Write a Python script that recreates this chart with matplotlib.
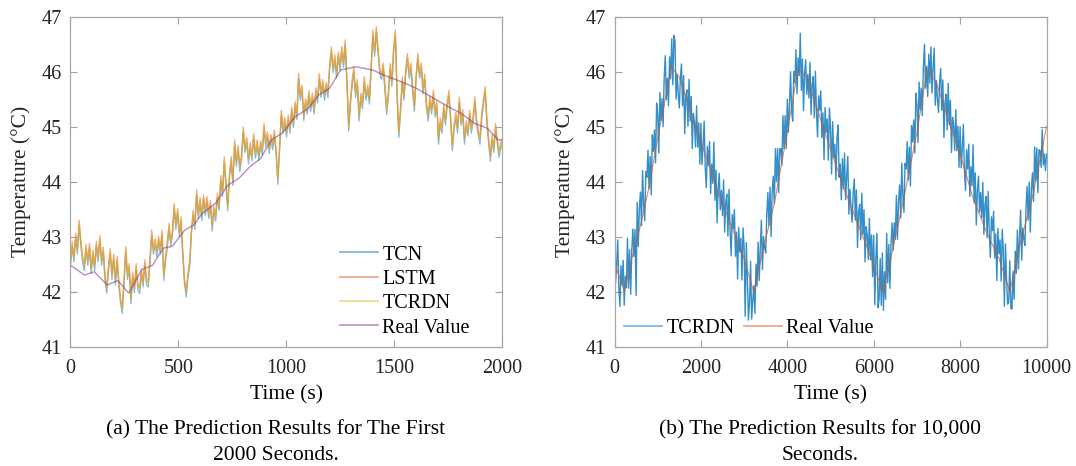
import numpy as np
import matplotlib
matplotlib.use("Agg")
import matplotlib.pyplot as plt

plt.rcParams["font.family"] = ["Liberation Serif", "DejaVu Serif"]

# ---- (a) first 2000 s, one sample every 8 s ------------------------------
t_a = np.arange(0, 2001, 8)
tcrdn_a = [
    42.52, 42.85, 42.60, 43.00, 42.75, 43.24, 42.90, 42.60, 42.45, 42.80,
    42.55, 42.82, 42.40, 42.70, 42.45, 42.85, 42.60, 42.96, 42.55, 42.75,
    42.25, 42.05, 42.45, 42.72, 42.30, 42.62, 42.20, 42.58, 42.15, 41.85,
    41.67, 42.20, 42.76, 42.30, 42.45, 41.85, 42.30, 42.05, 42.45, 42.10,
    42.03, 42.35, 42.15, 42.52, 42.20, 42.15, 42.55, 43.06, 42.75, 42.90,
    42.70, 42.95, 42.75, 43.06, 42.27, 42.60, 42.85, 43.18, 42.90, 43.06,
    43.55, 43.20, 43.45, 43.06, 43.30, 42.70, 42.20, 41.97, 42.30, 42.52,
    43.10, 43.42, 43.20, 43.79, 43.40, 43.65, 43.36, 43.70, 43.45, 43.67,
    43.40, 43.60, 43.18, 43.50, 43.35, 43.73, 43.55, 44.05, 43.80, 44.39,
    43.95, 43.55, 44.10, 44.40, 44.00, 44.70, 44.35, 44.60, 44.25, 44.45,
    44.94, 44.60, 44.75, 44.39, 44.65, 44.45, 44.82, 44.50, 44.70, 44.45,
    44.70, 44.55, 45.00, 44.70, 44.85, 44.58, 44.80, 44.65, 44.88, 44.55,
    44.03, 44.60, 45.24, 44.95, 45.10, 44.88, 45.15, 44.95, 45.30, 45.05,
    45.40, 45.20, 45.91, 45.55, 45.70, 45.18, 45.45, 45.30, 45.60, 45.35,
    45.55, 45.30, 45.65, 45.50, 45.91, 45.60, 45.80, 45.55, 45.75, 45.60,
    46.10, 46.39, 46.05, 46.25, 45.95, 46.30, 46.09, 46.40, 46.15, 46.52,
    45.80, 45.00, 45.45, 45.80, 46.03, 45.60, 45.80, 45.18, 45.55, 45.40,
    45.85, 45.55, 45.70, 45.48, 46.10, 46.70, 46.35, 46.76, 46.40, 46.00,
    45.91, 46.10, 45.70, 45.30, 45.60, 46.09, 45.80, 46.40, 46.70, 45.60,
    44.88, 45.30, 45.85, 45.55, 46.00, 46.27, 45.95, 46.10, 45.70, 45.36,
    45.90, 46.27, 45.95, 46.10, 45.67, 45.90, 45.40, 45.18, 45.50, 45.30,
    45.60, 45.25, 45.40, 44.76, 45.10, 44.95, 45.36, 45.10, 45.40, 45.60,
    45.15, 44.64, 45.00, 45.20, 44.95, 45.48, 45.10, 45.25, 44.76, 45.05,
    44.90, 45.24, 44.95, 45.15, 45.48, 45.10, 44.90, 44.76, 45.20, 45.45,
    45.67, 45.10, 44.75, 44.45, 44.80, 44.60, 45.00, 44.75, 44.52, 44.65,
    44.76]
tcn_a = [
    42.47, 42.80, 42.54, 42.95, 42.69, 43.19, 42.84, 42.53, 42.38, 42.75,
    42.48, 42.77, 42.33, 42.65, 42.38, 42.80, 42.54, 42.91, 42.48, 42.70,
    42.19, 41.97, 42.40, 42.67, 42.22, 42.57, 42.12, 42.53, 42.08, 41.78,
    41.60, 42.15, 42.71, 42.22, 42.40, 41.78, 42.25, 41.98, 42.40, 42.03,
    41.96, 42.30, 42.08, 42.47, 42.13, 42.08, 42.50, 43.01, 42.68, 42.85,
    42.63, 42.90, 42.68, 43.01, 42.20, 42.55, 42.78, 43.13, 42.83, 43.01,
    43.50, 43.13, 43.40, 42.99, 43.25, 42.63, 42.13, 41.90, 42.25, 42.45,
    43.05, 43.37, 43.13, 43.74, 43.33, 43.60, 43.29, 43.65, 43.38, 43.62,
    43.33, 43.55, 43.10, 43.45, 43.28, 43.68, 43.48, 44.00, 43.73, 44.34,
    43.88, 43.47, 44.05, 44.35, 43.93, 44.65, 44.28, 44.55, 44.18, 44.40,
    44.89, 44.53, 44.70, 44.32, 44.60, 44.38, 44.77, 44.43, 44.65, 44.38,
    44.65, 44.48, 44.95, 44.63, 44.80, 44.51, 44.75, 44.58, 44.83, 44.48,
    43.95, 44.55, 45.19, 44.88, 45.05, 44.81, 45.10, 44.88, 45.25, 44.98,
    45.35, 45.13, 45.86, 45.48, 45.65, 45.11, 45.40, 45.23, 45.55, 45.28,
    45.50, 45.23, 45.60, 45.43, 45.86, 45.53, 45.75, 45.48, 45.70, 45.53,
    46.05, 46.34, 45.98, 46.20, 45.88, 46.25, 46.02, 46.35, 46.08, 46.47,
    45.75, 44.92, 45.40, 45.75, 45.98, 45.53, 45.75, 45.10, 45.50, 45.33,
    45.80, 45.48, 45.65, 45.41, 46.05, 46.65, 46.28, 46.71, 46.33, 45.95,
    45.86, 46.05, 45.63, 45.22, 45.55, 46.04, 45.73, 46.35, 46.65, 45.53,
    44.80, 45.25, 45.80, 45.48, 45.95, 46.22, 45.88, 46.05, 45.63, 45.28,
    45.85, 46.22, 45.88, 46.05, 45.60, 45.85, 45.33, 45.10, 45.45, 45.23,
    45.55, 45.18, 45.35, 44.68, 45.05, 44.88, 45.31, 45.03, 45.35, 45.55,
    45.08, 44.56, 44.95, 45.15, 44.88, 45.43, 45.03, 45.20, 44.68, 45.00,
    44.83, 45.19, 44.88, 45.10, 45.43, 45.03, 44.83, 44.68, 45.15, 45.40,
    45.62, 45.03, 44.68, 44.37, 44.75, 44.53, 44.95, 44.68, 44.44, 44.60,
    44.71]
lstm_a = [
    42.56, 42.91, 42.64, 43.06, 42.79, 43.30, 42.94, 42.64, 42.49, 42.86,
    42.59, 42.88, 42.44, 42.76, 42.49, 42.91, 42.64, 43.02, 42.59, 42.81,
    42.29, 42.09, 42.49, 42.78, 42.34, 42.68, 42.24, 42.64, 42.19, 41.89,
    41.71, 42.24, 42.82, 42.34, 42.51, 41.89, 42.36, 42.09, 42.51, 42.14,
    42.07, 42.41, 42.19, 42.58, 42.24, 42.19, 42.61, 43.12, 42.79, 42.96,
    42.74, 43.01, 42.79, 43.12, 42.31, 42.64, 42.91, 43.24, 42.94, 43.12,
    43.61, 43.24, 43.51, 43.10, 43.36, 42.74, 42.24, 42.01, 42.34, 42.58,
    43.14, 43.48, 43.24, 43.85, 43.44, 43.71, 43.40, 43.76, 43.49, 43.73,
    43.44, 43.66, 43.22, 43.56, 43.39, 43.79, 43.59, 44.11, 43.84, 44.45,
    43.99, 43.59, 44.14, 44.46, 44.04, 44.76, 44.39, 44.66, 44.29, 44.51,
    45.00, 44.64, 44.81, 44.43, 44.71, 44.49, 44.88, 44.54, 44.76, 44.49,
    44.74, 44.59, 45.06, 44.74, 44.91, 44.62, 44.86, 44.69, 44.94, 44.59,
    44.07, 44.64, 45.30, 44.99, 45.16, 44.92, 45.21, 44.99, 45.36, 45.09,
    45.46, 45.24, 45.97, 45.59, 45.76, 45.22, 45.51, 45.34, 45.66, 45.39,
    45.61, 45.34, 45.71, 45.54, 45.97, 45.64, 45.86, 45.59, 45.81, 45.64,
    46.14, 46.45, 46.09, 46.31, 45.99, 46.36, 46.13, 46.46, 46.19, 46.58,
    45.84, 45.04, 45.49, 45.86, 46.09, 45.64, 45.86, 45.22, 45.61, 45.44,
    45.91, 45.59, 45.76, 45.52, 46.16, 46.76, 46.39, 46.82, 46.44, 46.04,
    45.97, 46.16, 45.74, 45.34, 45.66, 46.15, 45.84, 46.46, 46.76, 45.64,
    44.92, 45.36, 45.91, 45.59, 46.06, 46.33, 45.99, 46.16, 45.74, 45.40,
    45.94, 46.33, 45.99, 46.16, 45.71, 45.96, 45.44, 45.22, 45.56, 45.34,
    45.66, 45.29, 45.46, 44.80, 45.16, 44.99, 45.42, 45.14, 45.46, 45.66,
    45.19, 44.68, 45.06, 45.26, 44.99, 45.54, 45.14, 45.31, 44.80, 45.11,
    44.94, 45.30, 44.99, 45.21, 45.54, 45.14, 44.94, 44.80, 45.26, 45.51,
    45.73, 45.14, 44.79, 44.49, 44.86, 44.64, 45.06, 44.79, 44.56, 44.71,
    44.80]
t_real_a = [0, 65, 110, 170, 220, 270, 330, 380, 430, 470, 530, 570, 610, 670,
            730, 780, 830, 880, 930, 980, 1040, 1100, 1150, 1200, 1250, 1320,
            1400, 1450, 1530, 1600, 1680, 1750, 1810, 1870, 1930, 1980, 2000]
real_a = [42.48, 42.30, 42.36, 42.12, 42.20, 41.97, 42.40, 42.48, 42.79, 42.82,
          43.12, 43.21, 43.42, 43.60, 43.94, 44.06, 44.27, 44.42, 44.76, 44.88,
          45.18, 45.33, 45.58, 45.70, 46.03, 46.09, 46.03, 45.94, 45.82, 45.70,
          45.52, 45.36, 45.24, 45.06, 44.97, 44.76, 44.76]

# ---- (b) 10,000 s, one sample every 25 s ---------------------------------
t_b = np.arange(0, 10001, 25)
tcrdn_b = [
    43.3, 42.15, 42.49, 42.94, 42.08, 41.73, 42.47, 42.12, 42.57, 41.75,
    42.28, 42.07, 42.97, 42.06, 42.76, 41.95, 42.75, 43.14, 42.64, 43.13,
    41.93, 43.62, 42.82, 43.51, 43.81, 43.2, 44.2, 43.59, 43.29, 44.18,
    44.08, 44.57, 43.87, 44.46, 43.76, 44.85, 44.55, 44.94, 44.34, 45.43,
    45.23, 44.52, 45.62, 45.11, 45.51, 45.0, 45.9, 46.29, 45.49, 45.88,
    45.38, 46.27, 45.87, 46.6, 45.76, 46.66, 46.56, 45.5, 45.95, 45.6,
    45.34, 45.89, 46.14, 45.38, 45.93, 44.87, 45.52, 45.67, 45.01, 45.86,
    45.1, 45.55, 44.6, 45.24, 45.09, 44.63, 45.38, 44.63, 45.07, 44.32,
    45.06, 44.31, 44.66, 45.1, 44.25, 43.89, 44.64, 44.29, 44.73, 43.78,
    44.32, 43.97, 44.72, 43.66, 44.21, 43.25, 43.9, 44.15, 43.49, 43.84,
    43.38, 44.03, 43.08, 43.62, 43.77, 43.01, 43.86, 43.11, 42.65, 43.4,
    43.14, 43.49, 42.64, 43.08, 42.23, 43.17, 42.72, 42.97, 42.21, 43.16,
    42.8, 41.55, 42.89, 42.24, 41.48, 41.8, 42.55, 41.5, 41.84, 42.1,
    41.6, 42.5, 42.1, 42.9, 42.2, 42.8, 43.3, 42.4, 43.0, 42.8,
    42.7, 43.4, 43.8, 43.2, 43.9, 43.0, 43.8, 44.1, 43.6, 44.6,
    44.0, 44.6, 43.8, 44.6, 44.6, 44.3, 45.2, 44.6, 45.2, 44.6,
    45.5, 44.9, 45.4, 46.0, 45.3, 45.1, 46.0, 45.8, 46.4, 45.6,
    46.25, 45.93, 46.7, 45.66, 46.23, 45.29, 45.96, 46.22, 45.59, 45.95,
    45.52, 46.17, 45.22, 45.77, 45.91, 45.16, 46.01, 45.26, 44.81, 45.56,
    45.3, 45.65, 44.8, 45.25, 44.4, 45.35, 44.9, 45.14, 44.39, 45.34,
    44.99, 44.14, 45.09, 44.43, 44.68, 44.03, 44.78, 45.03, 44.08, 44.32,
    43.67, 44.42, 43.87, 44.52, 43.67, 44.11, 44.46, 43.41, 43.86, 43.51,
    43.26, 43.8, 44.05, 43.3, 43.85, 42.8, 43.45, 43.59, 42.94, 43.79,
    43.04, 43.49, 42.54, 43.18, 43.03, 42.58, 43.33, 42.58, 43.03, 42.27,
    43.02, 41.76, 42.61, 43.06, 41.71, 41.86, 42.6, 41.75, 42.7, 41.66,
    42.36, 41.86, 43.06, 42.16, 42.86, 42.06, 42.85, 43.25, 42.75, 43.25,
    42.95, 43.75, 42.95, 43.65, 43.94, 43.34, 44.34, 43.74, 43.44, 44.33,
    44.23, 44.73, 44.03, 44.63, 43.92, 45.02, 44.72, 45.12, 44.52, 45.61,
    45.41, 44.71, 45.81, 45.31, 45.7, 45.2, 46.1, 46.5, 45.7, 46.1,
    45.55, 46.32, 45.79, 46.45, 45.61, 46.07, 46.43, 45.39, 45.84, 45.5,
    45.26, 45.81, 46.06, 45.3, 45.85, 44.8, 45.44, 45.59, 44.94, 45.79,
    45.03, 45.48, 44.53, 45.17, 45.02, 44.57, 45.31, 44.56, 45.01, 44.26,
    45.0, 44.25, 44.6, 45.04, 44.19, 43.84, 44.58, 44.23, 44.68, 43.73,
    44.27, 43.92, 44.67, 43.61, 44.16, 43.21, 43.85, 44.1, 43.45, 43.8,
    43.34, 43.99, 43.04, 43.58, 43.73, 42.98, 43.82, 43.07, 42.62, 43.36,
    43.11, 43.46, 42.61, 43.05, 42.2, 43.15, 42.69, 42.94, 42.19, 43.13,
    42.78, 41.73, 42.87, 42.22, 41.77, 41.81, 42.56, 41.69, 41.68, 42.37,
    41.86, 42.74, 42.33, 43.12, 42.41, 43.0, 43.48, 42.57, 43.16, 42.95,
    42.84, 43.53, 43.91, 43.3, 43.99, 43.08, 43.87, 44.16, 43.64, 44.63,
    44.02, 44.61, 43.8, 44.58, 44.57, 44.26, 44.95, 44.3, 44.5, 44.2,
    44.5]
t_real_b = [0, 100, 230, 400, 600, 800, 1000, 1150, 1310, 1500, 1800, 2100,
            2400, 2700, 3000, 3220, 3450, 3700, 4000, 4250, 4450, 4700, 5000,
            5300, 5600, 5900, 6210, 6450, 6700, 7000, 7240, 7450, 7700, 8000,
            8300, 8600, 8900, 9150, 9400, 9700, 10000]
real_b = [42.5, 42.3, 42.0, 42.6, 43.2, 43.9, 44.8, 45.4, 46.1, 45.9, 45.2, 44.5,
          43.8, 43.2, 42.6, 42.0, 42.8, 43.6, 44.9, 46.05, 45.9, 45.3, 44.6,
          43.9, 43.3, 42.7, 42.0, 42.8, 43.7, 44.9, 46.05, 45.8, 45.2, 44.5,
          43.7, 43.1, 42.6, 42.0, 42.9, 43.8, 45.0]

BLUE, RED, YEL, PUR = "#0072BD", "#D95319", "#EDB120", "#7E2F8E"
TXT = "#262626"
TICK_FS, LAB_FS = 14.5, 15.5

fig = plt.figure(figsize=(10.76, 4.66), dpi=100)
ax1 = fig.add_axes([0.0655, 0.2564, 0.4015, 0.7077])
ax2 = fig.add_axes([0.5711, 0.2564, 0.4015, 0.7077])

ax1.plot(t_a, tcn_a, color=BLUE, lw=0.9, alpha=0.5, label="TCN")
ax1.plot(t_a, lstm_a, color=RED, lw=0.9, alpha=0.5, label="LSTM")
ax1.plot(t_a, tcrdn_a, color=YEL, lw=0.9, alpha=0.7, label="TCRDN")
ax1.plot(t_real_a, real_a, color=PUR, lw=1.0, alpha=0.55, label="Real Value")
ax1.set_xlim(0, 2000)
ax1.set_xticks([0, 500, 1000, 1500, 2000])

ax2.plot(t_b, tcrdn_b, color=BLUE, lw=1.0, alpha=0.8, label="TCRDN")
ax2.plot(t_real_b, real_b, color=RED, lw=0.8, alpha=0.7, label="Real Value")
ax2.set_xlim(0, 10000)
ax2.set_xticks([0, 2000, 4000, 6000, 8000, 10000])

for ax in (ax1, ax2):
    ax.set_ylim(41, 47)
    ax.set_yticks(range(41, 48))
    ax.tick_params(direction="in", top=True, right=True, length=5,
                   width=0.8, color="#a0a0a0", labelcolor=TXT,
                   labelsize=TICK_FS)
    ax.tick_params(axis="x", pad=9)
    ax.tick_params(axis="y", pad=6)
    for s in ax.spines.values():
        s.set_color("#a8a8a8"); s.set_linewidth(0.9)
    ax.set_xlabel("Time (s)", fontsize=LAB_FS, color="black", labelpad=5)
    ax.set_ylabel("Temperature (°C)", fontsize=LAB_FS, color=TXT, labelpad=8)

leg_a = fig.legend(*ax1.get_legend_handles_labels(), loc="center left",
                   bbox_to_anchor=(0.316, 0.3745), frameon=False,
                   fontsize=TICK_FS, borderpad=0, borderaxespad=0,
                   handlelength=1.9, handletextpad=0.2, labelspacing=0.26)
leg_b = fig.legend(*ax2.get_legend_handles_labels(), loc="center left",
                   bbox_to_anchor=(0.58, 0.296), frameon=False,
                   fontsize=TICK_FS, borderpad=0, borderaxespad=0,
                   handlelength=1.9, handletextpad=0.2, ncol=2,
                   columnspacing=0.45)
# legend samples look lighter than the plotted lines in the original
for h in leg_a.get_lines() + leg_b.get_lines():
    h.set_alpha(0.5); h.set_linewidth(1.3)

fig.text(0.2565, 0.078, "(a) The Prediction Results for The First",
         ha="center", va="center", fontsize=LAB_FS)
fig.text(0.2565, 0.022, "2000 Seconds.", ha="center", va="center",
         fontsize=LAB_FS)
fig.text(0.762, 0.078, "(b) The Prediction Results for 10,000",
         ha="center", va="center", fontsize=LAB_FS)
fig.text(0.762, 0.022, "Seconds.", ha="center", va="center", fontsize=LAB_FS)

fig.savefig("out.png", dpi=100)
